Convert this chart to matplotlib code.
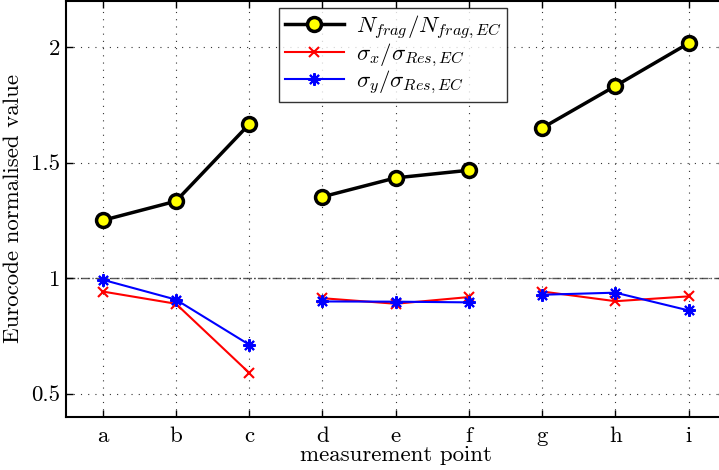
import numpy as np
import matplotlib
matplotlib.use("Agg")
import matplotlib.pyplot as plt
from matplotlib.lines import Line2D

plt.rcParams['font.family'] = ['cmr10', 'DejaVu Serif']
plt.rcParams['mathtext.fontset'] = 'cm'
plt.rcParams['axes.formatter.use_mathtext'] = True

# data
points = ['a', 'b', 'c', 'd', 'e', 'f', 'g', 'h', 'i']
n_frag = [1.25, 1.333, 1.666, 1.352, 1.434, 1.467, 1.65, 1.832, 2.017]
sig_x = [0.942, 0.889, 0.59, 0.913, 0.889, 0.918, 0.942, 0.90, 0.921]
sig_y = [0.993, 0.907, 0.712, 0.899, 0.898, 0.895, 0.928, 0.937, 0.86]
groups = [(0, 3), (3, 6), (6, 9)]

FS = 16.5

x = np.arange(1, len(points) + 1)

fig = plt.figure(figsize=(7.19, 4.70), dpi=100)
ax = fig.add_axes([0.0918, 0.1134, 0.9170, 0.8846])

ax.axhline(1.0, color='0.35', ls='-.', lw=1.0, zorder=1)

ast = (8, 2, 0)  # asterisk marker
for s, e in groups:
    ax.plot(x[s:e], sig_x[s:e], color='red', lw=1.5, marker='x', ms=7, mew=1.5, zorder=3)
    ax.plot(x[s:e], sig_y[s:e], color='blue', lw=1.5, marker=ast, ms=9, mew=1.5, zorder=4)
    ax.plot(x[s:e], n_frag[s:e], color='black', lw=2.5, marker='o', ms=10,
            mfc='yellow', mec='black', mew=2.5, zorder=5)

ax.set_xlim(0.5, 9.5)
ax.set_ylim(0.4, 2.2)
ax.set_xticks(x)
ax.set_xticklabels(points)
ax.set_yticks([0.5, 1, 1.5, 2])
ax.set_yticklabels(['0.5', '1', '1.5', '2'])
ax.tick_params(direction='in', top=True, right=True, labelsize=FS, length=5, width=1)
ax.tick_params(axis='x', pad=7)
ax.tick_params(axis='y', pad=4)
ax.grid(True, ls=(0, (1, 5.5)), color='0.2', lw=0.8)
for sp in ax.spines.values():
    sp.set_linewidth(1.5)

ax.set_xlabel('measurement point', fontsize=FS, labelpad=0)
ax.set_ylabel('Eurocode normalised value', fontsize=FS, labelpad=6)

handles = [
    Line2D([], [], color='black', lw=2.5, marker='o', ms=10, mfc='yellow', mec='black', mew=2.5),
    Line2D([], [], color='red', lw=1.5, marker='x', ms=7, mew=1.5),
    Line2D([], [], color='blue', lw=1.5, marker=ast, ms=9, mew=1.5),
]
labels = [r'$N_{frag}/N_{frag,EC}$', r'$\sigma_x/\sigma_{Res,EC}$', r'$\sigma_y/\sigma_{Res,EC}$']
leg = ax.legend(handles, labels, loc='upper left', bbox_to_anchor=(0.323, 0.983),
                fontsize=FS, frameon=True, fancybox=False, edgecolor='black',
                handlelength=2.6, borderpad=0.25, labelspacing=0.0, handletextpad=0.5,
                borderaxespad=0)
leg.get_frame().set_linewidth(1.0)

fig.savefig('out.png', dpi=100)
